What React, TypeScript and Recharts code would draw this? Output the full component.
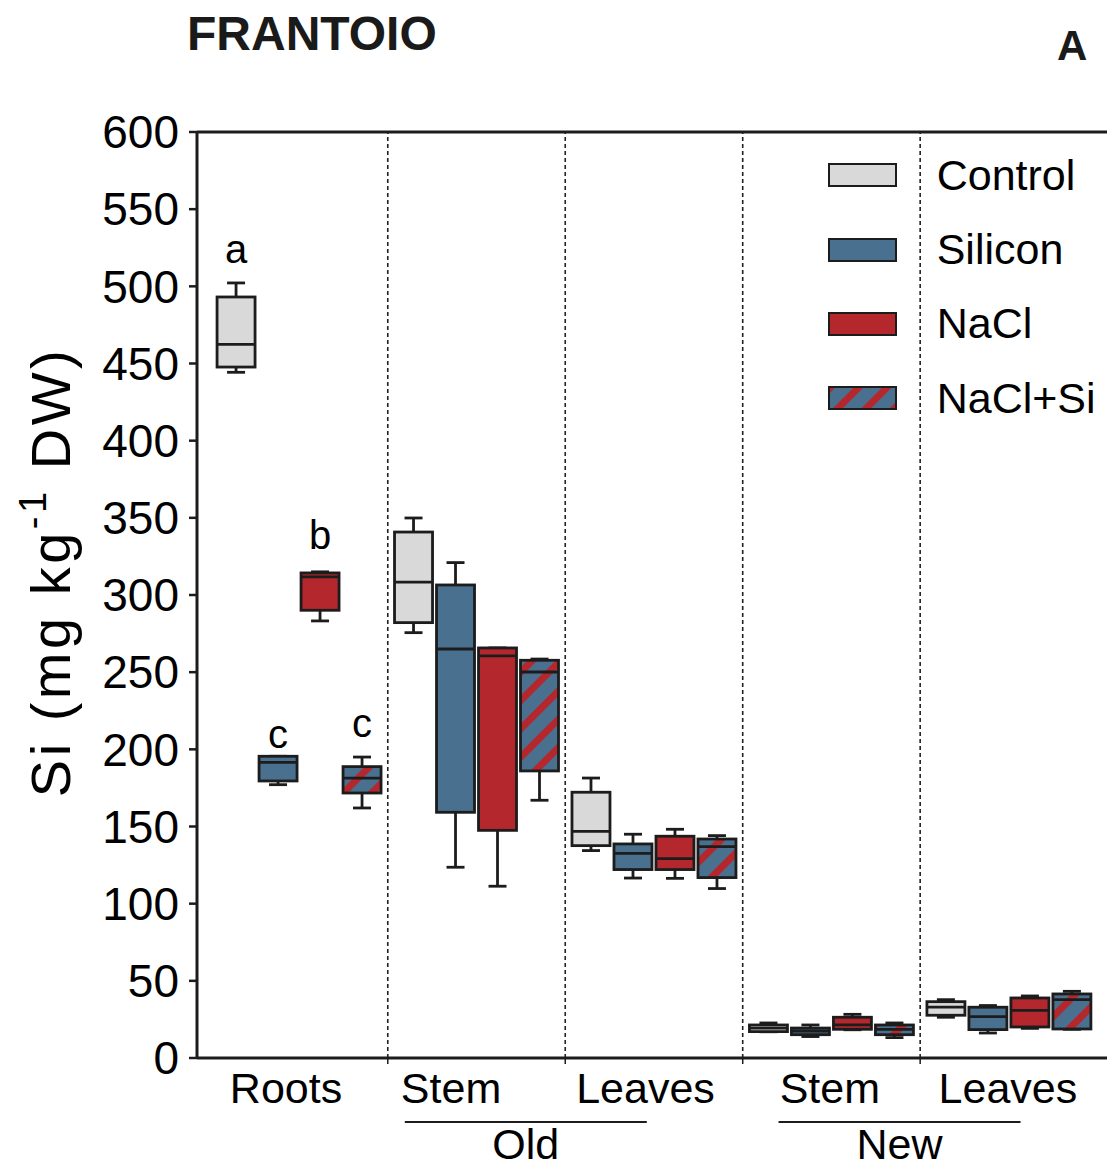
import React from "react";
import { ComposedChart, Bar, XAxis, YAxis, ReferenceLine, Legend } from "recharts";

const treatments = ["Control", "Silicon", "NaCl", "NaCl+Si"];
const organs = ["Roots", "Stem", "Leaves", "Stem", "Leaves"];
const ages = ["Old", "New"];
const yTicks = [0, 50, 100, 150, 200, 250, 300, 350, 400, 450, 500, 550, 600];

// [min, q1, median, q3, max] per organ: Roots, Old stem, Old leaves, New stem, New leaves
const control = [
  [444.3, 447.7, 462.4, 493.1, 502.2],
  [275.6, 282.1, 308.4, 340.8, 349.9],
  [134.4, 137.6, 146.9, 172.2, 181.4],
  [17.0, 17.1, 19.4, 21.4, 22.7],
  [26.4, 27.7, 33.0, 36.5, 37.8],
];
const silicon = [
  [177.1, 179.5, 191.6, 195.5, 195.5],
  [123.6, 159.2, 265.0, 306.5, 321.0],
  [116.6, 122.1, 132.6, 138.7, 145.0],
  [13.9, 15.1, 17.5, 19.4, 21.4],
  [16.2, 18.4, 26.8, 32.9, 34.0],
];
const nacl = [
  [283.2, 290.1, 311.7, 314.3, 315.0],
  [111.3, 147.5, 260.5, 265.7, 265.7],
  [116.4, 122.1, 129.2, 143.7, 148.2],
  [18.3, 18.6, 21.4, 26.4, 28.3],
  [19.2, 20.1, 30.9, 38.9, 40.2],
];
const naclSi = [
  [162.0, 171.7, 181.4, 188.8, 195.0],
  [167.0, 186.0, 250.1, 257.7, 258.5],
  [109.8, 116.9, 137.0, 141.9, 144.1],
  [13.2, 15.1, 18.6, 21.4, 22.7],
  [18.6, 18.8, 37.8, 41.5, 43.2],
];
// significance letters over the roots boxes, and the height they sit at
const rootLetters = ["a", "c", "b", "c"];
const rootLetterAt = [515, 201, 330, 208];

const FONT = "'Liberation Sans', Arial, Helvetica, sans-serif";
const INK = "#1c1c1c";
const BLUE = "#49708f";
const RED = "#b3272d";
const fills = ["#d9d9d9", BLUE, RED, "url(#naclSiStripes)"];

// layout, in box slots (one slot = distance between neighbouring boxes)
const GROUP_STEP = 4.226;
const X_DOMAIN = [-0.93, 20.74];
const BOX_W = 38;
const CAP_W = 18;
const boundaryTicks = [0, 1, 2, 3].map((g) => g * GROUP_STEP + 3 + (GROUP_STEP - 3) / 2);
const organLabelX = [1.19, 5.12, 9.75, 14.14, 18.38];
const ageLabelX = [6.9, 15.8];
const xTicks = [...boundaryTicks, ...organLabelX, ...ageLabelX];

const series = [control, silicon, nacl, naclSi];
const boxData = organs.flatMap((_, g) =>
  series.map((stats, t) => ({
    x: g * GROUP_STEP + t,
    range: [stats[g][0], stats[g][4]],
    stats: stats[g],
    t,
    letter: g === 0 ? rootLetters[t] : null,
    letterAt: g === 0 ? rootLetterAt[t] : null,
  }))
);

const BoxShape = (props: any) => {
  const { x, y, width, height, payload } = props;
  const [lo, q1, med, q3, hi] = payload.stats;
  const top = Math.min(y, y + height);
  const k = Math.abs(height) / (hi - lo);
  const py = (v: number) => top + (hi - v) * k;
  const cx = x + width / 2;
  const bx = cx - BOX_W / 2;
  const sw = 2.8;
  return (
    <g>
      <line x1={cx} x2={cx} y1={py(hi)} y2={py(q3)} stroke={INK} strokeWidth={sw} />
      <line x1={cx} x2={cx} y1={py(q1)} y2={py(lo)} stroke={INK} strokeWidth={sw} />
      <line x1={cx - CAP_W / 2} x2={cx + CAP_W / 2} y1={py(hi)} y2={py(hi)} stroke={INK} strokeWidth={sw} />
      <line x1={cx - CAP_W / 2} x2={cx + CAP_W / 2} y1={py(lo)} y2={py(lo)} stroke={INK} strokeWidth={sw} />
      <rect x={bx} y={py(q3)} width={BOX_W} height={py(q1) - py(q3)} fill={fills[payload.t]} stroke={INK} strokeWidth={sw} />
      <line x1={bx} x2={bx + BOX_W} y1={py(med)} y2={py(med)} stroke={INK} strokeWidth={sw} />
      {payload.letter && (
        <text x={cx} y={py(payload.letterAt)} textAnchor="middle" fontSize={40} fill="#000" fontFamily={FONT}>
          {payload.letter}
        </text>
      )}
    </g>
  );
};

const XTick = ({ x, y, payload }: any) => {
  const v = payload.value;
  const near = (a: number) => Math.abs(a - v) < 1e-6;
  if (boundaryTicks.some(near)) {
    return <line x1={x} x2={x} y1={y} y2={y + 6} stroke={INK} strokeWidth={1.5} />;
  }
  const oi = organLabelX.findIndex(near);
  if (oi >= 0) {
    return (
      <text x={x} y={y + 45} textAnchor="middle" fontSize={43} fill="#000" fontFamily={FONT}>
        {organs[oi]}
      </text>
    );
  }
  const ai = ageLabelX.findIndex(near);
  if (ai >= 0) {
    return (
      <g>
        <line x1={x - 121} x2={x + 121} y1={y + 64} y2={y + 64} stroke={INK} strokeWidth={2} />
        <text x={x} y={y + 101} textAnchor="middle" fontSize={43} fill="#000" fontFamily={FONT}>
          {ages[ai]}
        </text>
      </g>
    );
  }
  return null;
};

const LegendContent = () => (
  <div style={{ fontFamily: FONT }}>
    {treatments.map((name, i) => (
      <div key={name} style={{ display: "flex", alignItems: "center", height: 74.4 }}>
        <svg width={70} height={26}>
          <rect x={1} y={2} width={67} height={22} fill={fills[i]} stroke={INK} strokeWidth={2} />
        </svg>
        <span style={{ marginLeft: 38.7, fontSize: 43, color: "#000", lineHeight: 1 }}>{name}</span>
      </div>
    ))}
  </div>
);

export default function App() {
  return (
    <div style={{ position: "relative", width: 1109, height: 1169, fontFamily: FONT, background: "#fff" }}>
      <style>{"body{margin:0}"}</style>
      <svg width={0} height={0} style={{ position: "absolute" }}>
        <defs>
          <pattern id="naclSiStripes" patternUnits="userSpaceOnUse" width={20} height={20} patternTransform="rotate(45)">
            <rect width={20} height={20} fill={BLUE} />
            <rect width={7} height={20} fill={RED} />
          </pattern>
        </defs>
      </svg>
      <ComposedChart width={1109} height={1169} data={boxData} margin={{ top: 132, right: 2, bottom: 0, left: 0 }}>
        <XAxis
          type="number"
          dataKey="x"
          domain={X_DOMAIN}
          ticks={xTicks}
          interval={0}
          tick={<XTick />}
          tickLine={false}
          tickSize={0}
          tickMargin={0}
          height={111}
          axisLine={{ stroke: INK, strokeWidth: 3 }}
        />
        <YAxis
          type="number"
          domain={[0, 600]}
          ticks={yTicks}
          interval={0}
          width={197}
          tickSize={8}
          tickMargin={10}
          tick={{ fontSize: 46, fill: "#000", fontFamily: FONT }}
          tickLine={{ stroke: INK, strokeWidth: 2.5 }}
          axisLine={{ stroke: INK, strokeWidth: 3 }}
        />
        {boundaryTicks.map((b) => (
          <ReferenceLine key={b} x={b} stroke="#222" strokeWidth={1.6} strokeDasharray="4 3" />
        ))}
        <ReferenceLine y={600} stroke={INK} strokeWidth={3} />
        <Bar dataKey="range" barSize={BOX_W} shape={<BoxShape />} isAnimationActive={false} />
        <Legend
          content={<LegendContent />}
          layout="vertical"
          align="center"
          verticalAlign="middle"
          wrapperStyle={{ position: "absolute", left: 828, top: 138, width: 281, height: 300 }}
        />
      </ComposedChart>
      <svg width={1109} height={1169} style={{ position: "absolute", left: 0, top: 0, pointerEvents: "none" }}>
        <text x={187} y={50} fontSize={48} fontWeight="bold" fill="#1a1a1a" fontFamily={FONT}>
          FRANTOIO
        </text>
        <text x={1057} y={60} fontSize={42} fontWeight="bold" fill="#1a1a1a" fontFamily={FONT}>
          A
        </text>
        <text
          transform="translate(70,572) rotate(-90)"
          textAnchor="middle"
          fontSize={56}
          letterSpacing={3.5}
          fill="#000"
          fontFamily={FONT}
        >
          Si (mg kg
          <tspan dy={-24} fontSize={38}>-1</tspan>
          <tspan dy={24}> DW)</tspan>
        </text>
      </svg>
    </div>
  );
}
